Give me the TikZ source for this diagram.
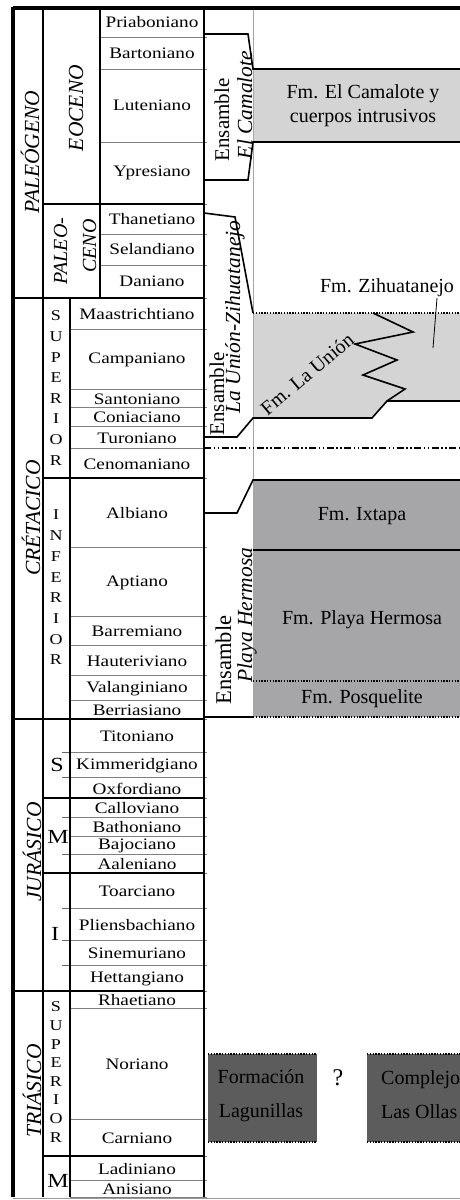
\documentclass[tikz,border=0pt]{standalone}
\usepackage{fontspec}
\setmainfont{Liberation Serif}
\newfontfamily\stagefont[FakeStretch=1.2]{Liberation Serif}
\definecolor{lgray}{RGB}{212,212,212}
\definecolor{mgray}{RGB}{166,166,168}
\definecolor{dgray}{RGB}{92,92,92}
\begin{document}
\begin{tikzpicture}[x=1pt,y=-1pt,
  stg/.style={font=\stagefont\fontsize{16}{18}\selectfont, inner sep=0pt},
  ltr/.style={font=\stagefont\fontsize{15}{17}\selectfont, inner sep=0pt},
  bigltr/.style={font=\stagefont\fontsize{20}{22}\selectfont, inner sep=0pt},
  per/.style={rotate=90, anchor=base, inner sep=0pt, font=\itshape\fontsize{21.5}{24}\selectfont},
  ens/.style={rotate=90, anchor=base, inner sep=0pt, font=\fontsize{21}{24}\selectfont},
  ensi/.style={rotate=90, anchor=base, inner sep=0pt, font=\itshape\fontsize{21.5}{24}\selectfont},
  fm/.style={font=\fontsize{20}{23}\selectfont, inner sep=0pt},
  heavy/.style={line width=2.6pt},
  med/.style={line width=1.5pt},
  bnd/.style={line width=1.6pt},
  stline/.style={line width=0.9pt, draw=black!50},
  dotl/.style={line width=2pt, dash pattern=on 1.4pt off 1.4pt},
  ddl/.style={line width=1.8pt, dash pattern=on 7pt off 2.5pt on 1.5pt off 2.5pt on 1.5pt off 2.5pt},
]
\useasboundingbox (0,0) rectangle (460,1200);
\fill[white] (0,0) rectangle (460,1200);

% ---- formation fills ----
\fill[lgray] (253,69) rectangle (460,142);
\fill[lgray] (253,313) -- (460,313) -- (460,401) -- (387,401) -- (372,418) -- (253,418) -- cycle;
\fill[mgray] (253,480) rectangle (460,717);
\fill[dgray] (208,1054) rectangle (317,1142);
\fill[dgray] (367,1054) rectangle (462,1142);

% gray column line
\draw[line width=1pt, draw=black!35] (253,8) -- (253,717);

% ---- stages ----
\foreach \a/\b/\t in {8/37/Priaboniano,37/69/Bartoniano,69/142/Luteniano,142/204/Ypresiano,
  204/234/Thanetiano,234/265/Selandiano,265/298/Daniano}{
  \node[stg] (\t) at (152,{(\a+\b)/2}) {\t};
  \draw[stline] (100,\b) -- (207,\b);
}
\foreach \a/\b/\t in {298/329/Maastrichtiano,329/389/Campaniano,389/407/Santoniano,
  407/426/Coniaciano,426/448/Turoniano,448/478/Cenomaniano,478/547/Albiano,547/616/Aptiano,
  616/645/Barremiano,645/675/Hauteriviano,675/700/Valanginiano,700/719/Berriasiano,
  719/752/Titoniano,752/777/Kimmeridgiano,777/798/Oxfordiano,798/817/Calloviano,
  817/836/Bathoniano,836/854/Bajociano,854/873/Aaleniano,873/908/Toarciano,
  908/940/Pliensbachiano,940/965/Sinemuriano,965/991/Hettangiano,991/1008/Rhaetiano,
  1008/1119/Noriano,1119/1156/Carniano,1156/1180/Ladiniano,1180/1197/Anisiano}{
  \node[stg] (\t) at (137,{(\a+\b)/2+1}) {\t};
  \draw[stline] (70,\b) -- (207,\b);
}
% ticks in Jurassic epoch column
\foreach \y in {752,777,817,854,908,940,965}{
  \draw[line width=0.8pt, draw=black!60] (62,\y) -- (70,\y);
}

% ---- frame lines ----
\draw[line width=3.2pt] (13,8) -- (460,8);
\draw[line width=3.4pt] (13,6.5) -- (13,1197);
\draw[heavy] (43,8) -- (43,1197);
\draw[med] (100,8) -- (100,298);
\draw[heavy] (70,298) -- (70,1197);
\draw[med] (204,8) -- (204,1197);
\draw[heavy] (43,204) -- (204,204);
\draw[heavy] (13,298) -- (204,298);
\draw[heavy] (43,478) -- (204,478);
\draw[heavy] (13,719) -- (204,719);
\draw[heavy] (43,798) -- (204,798);
\draw[heavy] (43,873) -- (204,873);
\draw[heavy] (13,991) -- (204,991);
\draw[heavy] (43,1156) -- (204,1156);
\draw[line width=1pt, draw=black!40] (13,1198) -- (460,1198);

% ---- ensemble / formation boundaries ----
\draw[bnd] (204,34) -- (248,34) -- (253,69) -- (460,69);
\draw[bnd] (204,180) -- (248,180) -- (253,142) -- (460,142);
\draw[bnd] (204,213) -- (235,217) -- (253,313);
\draw[dotl] (253,313) -- (460,313);
\draw[bnd] (204,437) -- (237,437) -- (253,418) -- (372,418) -- (387,401) -- (460,401);
\draw[bnd] (373,313) -- (413,332) -- (355,344) -- (397,360) -- (363,375) -- (405,389) -- (387,401);
\draw[ddl] (204,448) -- (460,448);
\draw[bnd] (204,513) -- (237,513) -- (253,480) -- (460,480);
\draw[bnd] (253,550) -- (460,550);
\draw[dotl] (253,681) -- (460,681);
\draw[bnd] (204,717) -- (253,717);
\draw[dotl] (253,717) -- (460,717);
\draw[dotl] (208,1054) -- (317,1054) (208,1142) -- (317,1142);
\draw[dotl] (367,1054) -- (462,1054) (367,1142) -- (462,1142);

% ---- period / epoch labels ----
\node[per] (paleog) at (39,152) {PALEÓGENO};
\node[per] (eoc) at (83,108) {EOCENO};
\node[per, font=\itshape\fontsize{20}{22}\selectfont] (pal1) at (67,251) {PALEO-};
\node[per, font=\itshape\fontsize{20}{22}\selectfont] (pal2) at (96,246) {CENO};
\node[per] (cret) at (40,518) {CRÉTACICO};
\node[per] (jur) at (41,852) {JURÁSICO};
\node[per] (tri) at (41,1091) {TRIÁSICO};

\foreach \l [count=\i from 0] in {S,U,P,E,R,I,O,R}{
  \node[ltr] (cs\i) at (56,{316+20.6*\i}) {\l};
  \node[ltr] (ts\i) at (56,{1007+18.6*\i}) {\l};
}
\foreach \l [count=\i from 0] in {I,N,F,E,R,I,O,R}{
  \node[ltr] (ci\i) at (56,{515+20.7*\i}) {\l};
}
\node[bigltr] (js) at (57,765) {S};
\node[bigltr] (jm) at (58,837) {M};
\node[bigltr] (ji) at (55,934) {I};
\node[bigltr] (tm) at (58,1181) {M};

% ---- ensemble labels ----
\node[ens] (e1a) at (229,120) {Ensamble};
\node[ensi] (e1b) at (252,105) {El Camalote};
\node[ens] (e2a) at (224,394) {Ensamble};
\node[ensi] (e2b) at (240,317) {La Unión-Zihuatanejo};
\node[ens, font=\fontsize{22.5}{25}\selectfont] (e3a) at (231,660) {Ensamble};
\node[ensi] (e3b) at (252,615) {Playa Hermosa};

% ---- formation labels ----
\node[fm, align=center] (camal) at (363,106) {Fm. El Camalote y\\[1pt]cuerpos intrusivos};
\node[fm] (zih) at (387,288) {Fm. Zihuatanejo};
\coordinate (zt) at (437,298);
\coordinate (zb) at (433,348);
\draw[line width=0.8pt] (zt) -- (zb);
\node[fm, rotate=40] (lu) at (307,374) {Fm. La Unión};
\node[fm] (ixt) at (362,516) {Fm. Ixtapa};
\node[fm] (ph) at (362,620) {Fm. Playa Hermosa};
\node[fm] (posq) at (362,699) {Fm. Posquelite};
\node[fm] (form) at (261,1077) {Formación};
\node[fm] (lag) at (261,1113) {Lagunillas};
\node[font=\fontsize{24}{26}\selectfont, inner sep=0pt] (q) at (338,1078) {?};
\node[fm, anchor=west] (comp) at (381,1080) {Complejo};
\node[fm, anchor=west] (ollas) at (381,1112) {Las Ollas};
\end{tikzpicture}
\end{document}
